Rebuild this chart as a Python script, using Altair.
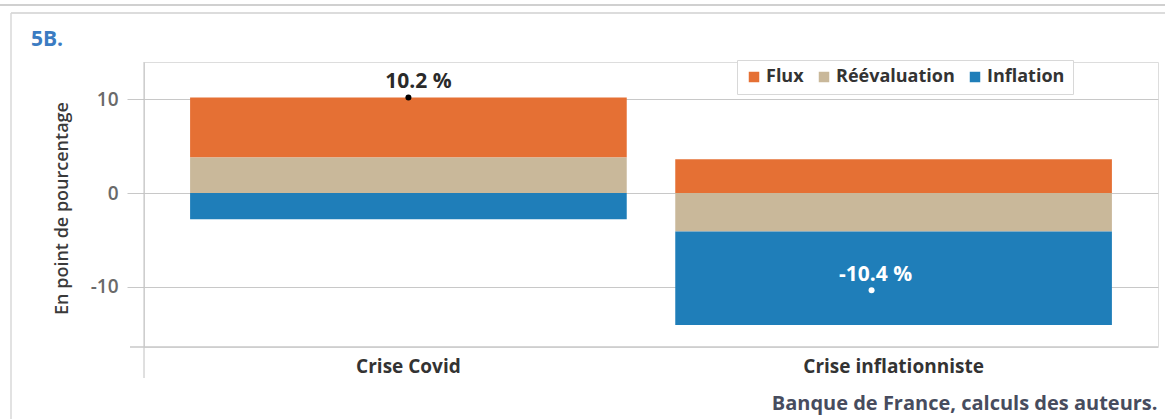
import altair as alt
import pandas as pd

categories = ["Crise Covid", "Crise inflationniste"]
components = ["Flux", "Réévaluation", "Inflation"]
colors = ["#E57034", "#C9B89A", "#1F7EB9"]
flux = [6.4, 3.6]
reevaluation = [3.8, -4.1]
inflation = [-2.8, -10.0]
totals = [10.2, -10.4]
total_labels = ["10.2 %", "-10.4 %"]
y_ticks = [10, 0, -10]
chart_tag = "5B."
source = "Banque de France, calculs des auteurs."

stack_order = {"Réévaluation": 0, "Flux": 1, "Inflation": 2}
rows = []
for i, c in enumerate(categories):
    for comp, vals in zip(components, [flux, reevaluation, inflation]):
        rows.append({"cat": c, "comp": comp, "value": vals[i], "ord": stack_order[comp]})
df = pd.DataFrame(rows)
tot = pd.DataFrame({"cat": categories, "total": totals, "label": total_labels})

W, H = 1014, 285
FONT = "Open Sans"

xenc = alt.X("cat:N", sort=categories,
             scale=alt.Scale(paddingInner=0.1, paddingOuter=0.095),
             axis=alt.Axis(title=source, domain=False, ticks=False, labelLimit=0,
                           labelAngle=0, labelPadding=10, labelFontSize=19, labelFont=FONT,
                           labelFontWeight="bold", labelColor="#333333",
                           titleX=1013, titleY=62, titleAlign="right", titleAnchor="end",
                           titleBaseline="alphabetic", titleFont=FONT, titleFontSize=20,
                           titleFontWeight="bold", titleColor="#474c5e", titleLimit=0))
yscale = alt.Scale(domain=[-16.45, 14.0], nice=False, zero=False)

bars = alt.Chart(df).mark_bar().encode(
    x=xenc,
    y=alt.Y("value:Q", stack="zero", scale=yscale,
            axis=alt.Axis(title="En point de pourcentage", values=y_ticks, domain=False,
                          labelExpr="'' + datum.value",
                          grid=True, gridColor="#c8c8c8", tickColor="#c8c8c8", tickSize=17,
                          labelPadding=9, labelFontSize=19, labelFont=FONT, labelFontWeight=600,
                          labelColor="#6a6a6a", titleFont=FONT, titleFontSize=18,
                          titleFontWeight=600, titleColor="#3a3a3a", titleLimit=0,
                          titleX=-82, titleY=146, titleBaseline="middle", titleAngle=270)),
    color=alt.Color("comp:N", scale=alt.Scale(domain=components, range=colors),
                    legend=alt.Legend(title=None, orient="none", legendX=593, legendY=-2,
                                      direction="horizontal", symbolType="square", symbolSize=110,
                                      symbolStrokeWidth=0, labelFont=FONT, labelFontSize=18,
                                      labelFontWeight="bold", labelColor="#333333", labelLimit=0,
                                      strokeColor="#d8d8d8", fillColor="white", padding=8,
                                      columnPadding=11, labelOffset=3)),
    order=alt.Order("ord:Q"),
)

one = alt.Data(values=[{"t": chart_tag}])
yline = alt.Chart(one).mark_rule(color="#c0c0c0").encode(
    x=alt.value(0), y=alt.value(0), y2=alt.value(H + 31))
xline = alt.Chart(one).mark_rule(color="#c8c8c8", strokeWidth=1.5).encode(
    x=alt.value(-14), x2=alt.value(W), y=alt.value(H))
frame1 = alt.Chart(one).mark_rule(color="#d0d0d0", strokeWidth=2).encode(
    x=alt.value(-144), x2=alt.value(W + 10), y=alt.value(-57))
frame2 = alt.Chart(one).mark_rule(color="#d0d0d0", strokeWidth=1.5).encode(
    x=alt.value(-133), x2=alt.value(W + 10), y=alt.value(-49))
frame3 = alt.Chart(one).mark_rule(color="#d8d8d8", strokeWidth=1.5).encode(
    x=alt.value(-133), y=alt.value(-49), y2=alt.value(H + 80))
tag = alt.Chart(one).mark_text(align="left", baseline="alphabetic", font=FONT, fontSize=21,
                               fontWeight="bold", color="#3b7cc2").encode(
    x=alt.value(-113), y=alt.value(-16), text="t:N")

t1 = tot[tot["cat"] == categories[0]]
t2 = tot[tot["cat"] == categories[1]]
dot1 = alt.Chart(t1).mark_circle(size=36, color="black", opacity=1).encode(
    x=alt.X("cat:N", sort=categories), y=alt.Y("total:Q", scale=yscale))
lab1 = alt.Chart(t1).mark_text(dx=10, dy=-10, baseline="alphabetic", font=FONT, fontSize=21,
                               fontWeight="bold", color="#2a2a2a").encode(
    x=alt.X("cat:N", sort=categories), y=alt.Y("total:Q", scale=yscale), text="label:N")
dot2 = alt.Chart(t2).mark_circle(size=36, color="white", opacity=1, xOffset=-22).encode(
    x=alt.X("cat:N", sort=categories), y=alt.Y("total:Q", scale=yscale))
lab2 = alt.Chart(t2).mark_text(dx=-18, dy=-9, baseline="alphabetic", font=FONT, fontSize=21,
                               fontWeight="bold", color="white").encode(
    x=alt.X("cat:N", sort=categories), y=alt.Y("total:Q", scale=yscale), text="label:N")

chart = alt.layer(frame1, frame2, frame3, tag, bars, yline, xline, dot1, lab1, dot2, lab2).properties(
    width=W, height=H,
    autosize=alt.AutoSizeParams(type="none"),
    padding={"left": 144, "top": 62, "right": 7, "bottom": 72},
).configure_view(stroke=None).configure(background="white")

chart.save("out.html", embed_options={"renderer": "svg", "actions": False})
